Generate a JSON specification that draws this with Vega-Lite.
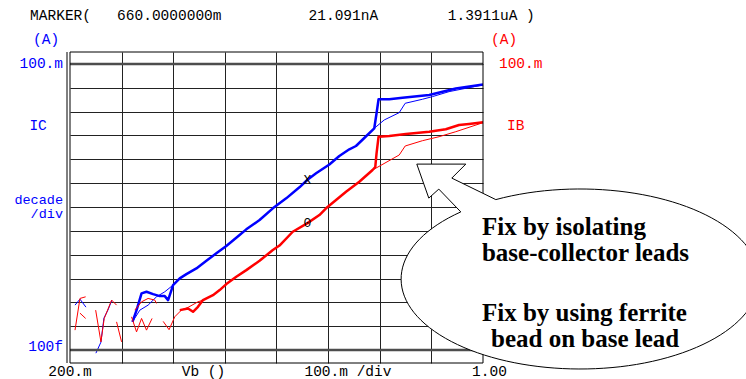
{
  "$schema": "https://vega.github.io/schema/vega-lite/v6.json",
  "width": 413,
  "height": 311,
  "autosize": {"type": "none"},
  "padding": {"left": 70, "top": 52, "right": 263, "bottom": 16},
  "background": "white",
  "config": {
    "view": {"stroke": null},
    "axis": {"labels": false, "ticks": false, "domain": false, "titleOpacity": 0, "gridColor": "#222222", "gridWidth": 1, "gridOpacity": 1}
  },
  "data": {"values": [{}]},
  "layer": [
    {
      "data": {"values": [
        {"series":"IC_meas","seg":"m","Vb":0.321,"I":1.53e-12},
        {"series":"IC_meas","seg":"m","Vb":0.329,"I":4.75e-12},
        {"series":"IC_meas","seg":"m","Vb":0.3386,"I":2.39e-11},
        {"series":"IC_meas","seg":"m","Vb":0.3482,"I":2.79e-11},
        {"series":"IC_meas","seg":"m","Vb":0.361,"I":2.23e-11},
        {"series":"IC_meas","seg":"m","Vb":0.3739,"I":1.84e-11},
        {"series":"IC_meas","seg":"m","Vb":0.3836,"I":1.84e-11},
        {"series":"IC_meas","seg":"m","Vb":0.39,"I":1.25e-11},
        {"series":"IC_meas","seg":"m","Vb":0.3965,"I":3.28e-11},
        {"series":"IC_meas","seg":"m","Vb":0.3996,"I":5.32e-11},
        {"series":"IC_meas","seg":"m","Vb":0.4126,"I":1.02e-10},
        {"series":"IC_meas","seg":"m","Vb":0.4255,"I":1.54e-10},
        {"series":"IC_meas","seg":"m","Vb":0.4448,"I":2.67e-10},
        {"series":"IC_meas","seg":"m","Vb":0.4642,"I":5.57e-10},
        {"series":"IC_meas","seg":"m","Vb":0.4835,"I":1.14e-9},
        {"series":"IC_meas","seg":"m","Vb":0.5028,"I":2.31e-9},
        {"series":"IC_meas","seg":"m","Vb":0.5285,"I":6.67e-9},
        {"series":"IC_meas","seg":"m","Vb":0.5415,"I":1.16e-8},
        {"series":"IC_meas","seg":"m","Vb":0.5672,"I":2.84e-8},
        {"series":"IC_meas","seg":"m","Vb":0.5929,"I":8.81e-8},
        {"series":"IC_meas","seg":"m","Vb":0.6188,"I":2.31e-7},
        {"series":"IC_meas","seg":"m","Vb":0.6444,"I":6.7e-7},
        {"series":"IC_meas","seg":"m","Vb":0.66,"I":1.3911e-6},
        {"series":"IC_meas","seg":"m","Vb":0.6767,"I":2.59e-6},
        {"series":"IC_meas","seg":"m","Vb":0.7024,"I":6.07e-6},
        {"series":"IC_meas","seg":"m","Vb":0.7217,"I":1.38e-5},
        {"series":"IC_meas","seg":"m","Vb":0.7411,"I":2.63e-5},
        {"series":"IC_meas","seg":"m","Vb":0.754,"I":3.62e-5},
        {"series":"IC_meas","seg":"m","Vb":0.77,"I":7.85e-5},
        {"series":"IC_meas","seg":"m","Vb":0.7894,"I":2.0e-4},
        {"series":"IC_meas","seg":"m","Vb":0.7938,"I":8.53e-4},
        {"series":"IC_meas","seg":"m","Vb":0.7977,"I":3.3e-3},
        {"series":"IC_meas","seg":"m","Vb":0.8184,"I":3.3e-3},
        {"series":"IC_meas","seg":"m","Vb":0.8441,"I":3.82e-3},
        {"series":"IC_meas","seg":"m","Vb":0.8957,"I":5.0e-3},
        {"series":"IC_meas","seg":"m","Vb":0.9473,"I":9.38e-3},
        {"series":"IC_meas","seg":"m","Vb":1.0,"I":1.38e-2},

        {"series":"IC_fix","seg":"a","Vb":0.2097,"I":7.71e-12},
        {"series":"IC_fix","seg":"a","Vb":0.2193,"I":1.37e-11},
        {"series":"IC_fix","seg":"a","Vb":0.2309,"I":6.35e-12},
        {"series":"IC_fix","seg":"b","Vb":0.2502,"I":7.45e-14},
        {"series":"IC_fix","seg":"b","Vb":0.2599,"I":2.16e-13},
        {"series":"IC_fix","seg":"b","Vb":0.2657,"I":2.19e-12},
        {"series":"IC_fix","seg":"b","Vb":0.2734,"I":4.75e-12},
        {"series":"IC_fix","seg":"b","Vb":0.2812,"I":1.25e-11},
        {"series":"IC_fix","seg":"m","Vb":0.321,"I":1.53e-12},
        {"series":"IC_fix","seg":"m","Vb":0.3353,"I":4.75e-12},
        {"series":"IC_fix","seg":"m","Vb":0.3513,"I":7.71e-12},
        {"series":"IC_fix","seg":"m","Vb":0.3675,"I":1.72e-11},
        {"series":"IC_fix","seg":"m","Vb":0.3836,"I":2.79e-11},
        {"series":"IC_fix","seg":"m","Vb":0.3996,"I":5.32e-11},
        {"series":"IC_fix","seg":"m","Vb":0.4126,"I":1.02e-10},
        {"series":"IC_fix","seg":"m","Vb":0.4255,"I":1.54e-10},
        {"series":"IC_fix","seg":"m","Vb":0.4448,"I":2.67e-10},
        {"series":"IC_fix","seg":"m","Vb":0.4642,"I":5.57e-10},
        {"series":"IC_fix","seg":"m","Vb":0.4835,"I":1.14e-9},
        {"series":"IC_fix","seg":"m","Vb":0.5028,"I":2.31e-9},
        {"series":"IC_fix","seg":"m","Vb":0.5285,"I":6.67e-9},
        {"series":"IC_fix","seg":"m","Vb":0.5415,"I":1.16e-8},
        {"series":"IC_fix","seg":"m","Vb":0.5672,"I":2.84e-8},
        {"series":"IC_fix","seg":"m","Vb":0.5929,"I":8.81e-8},
        {"series":"IC_fix","seg":"m","Vb":0.6188,"I":2.31e-7},
        {"series":"IC_fix","seg":"m","Vb":0.6444,"I":6.7e-7},
        {"series":"IC_fix","seg":"m","Vb":0.66,"I":1.3911e-6},
        {"series":"IC_fix","seg":"m","Vb":0.6767,"I":2.59e-6},
        {"series":"IC_fix","seg":"m","Vb":0.7024,"I":6.07e-6},
        {"series":"IC_fix","seg":"m","Vb":0.7217,"I":1.38e-5},
        {"series":"IC_fix","seg":"m","Vb":0.7411,"I":2.63e-5},
        {"series":"IC_fix","seg":"m","Vb":0.754,"I":3.62e-5},
        {"series":"IC_fix","seg":"m","Vb":0.77,"I":7.85e-5},
        {"series":"IC_fix","seg":"m","Vb":0.7894,"I":2.0e-4},
        {"series":"IC_fix","seg":"m","Vb":0.8087,"I":4.47e-4},
        {"series":"IC_fix","seg":"m","Vb":0.8377,"I":9.04e-4},
        {"series":"IC_fix","seg":"m","Vb":0.8493,"I":2.24e-3},
        {"series":"IC_fix","seg":"m","Vb":0.8827,"I":3.3e-3},
        {"series":"IC_fix","seg":"m","Vb":0.902,"I":4.25e-3},
        {"series":"IC_fix","seg":"m","Vb":0.9343,"I":6.89e-3},
        {"series":"IC_fix","seg":"m","Vb":1.0,"I":1.32e-2},

        {"series":"IB_meas","seg":"m","Vb":0.4126,"I":4.75e-12},
        {"series":"IB_meas","seg":"m","Vb":0.4286,"I":5.6e-12},
        {"series":"IB_meas","seg":"m","Vb":0.4383,"I":4.04e-12},
        {"series":"IB_meas","seg":"m","Vb":0.4479,"I":6.53e-12},
        {"series":"IB_meas","seg":"m","Vb":0.4576,"I":1.25e-11},
        {"series":"IB_meas","seg":"m","Vb":0.4769,"I":2.02e-11},
        {"series":"IB_meas","seg":"m","Vb":0.4899,"I":3.28e-11},
        {"series":"IB_meas","seg":"m","Vb":0.5028,"I":5.86e-11},
        {"series":"IB_meas","seg":"m","Vb":0.5221,"I":1.19e-10},
        {"series":"IB_meas","seg":"m","Vb":0.5415,"I":2.26e-10},
        {"series":"IB_meas","seg":"m","Vb":0.5672,"I":5.57e-10},
        {"series":"IB_meas","seg":"m","Vb":0.5929,"I":1.57e-9},
        {"series":"IB_meas","seg":"m","Vb":0.6058,"I":2.42e-9},
        {"series":"IB_meas","seg":"m","Vb":0.6315,"I":9.18e-9},
        {"series":"IB_meas","seg":"m","Vb":0.66,"I":2.1091e-8},
        {"series":"IB_meas","seg":"m","Vb":0.6831,"I":4.6e-8},
        {"series":"IB_meas","seg":"m","Vb":0.696,"I":8.81e-8},
        {"series":"IB_meas","seg":"m","Vb":0.7347,"I":4.38e-7},
        {"series":"IB_meas","seg":"m","Vb":0.7604,"I":1.15e-6},
        {"series":"IB_meas","seg":"m","Vb":0.7861,"I":3.56e-6},
        {"series":"IB_meas","seg":"m","Vb":0.7913,"I":4.76e-6},
        {"series":"IB_meas","seg":"m","Vb":0.7938,"I":1.79e-5},
        {"series":"IB_meas","seg":"m","Vb":0.7977,"I":8.89e-5},
        {"series":"IB_meas","seg":"m","Vb":0.8184,"I":9.52e-5},
        {"series":"IB_meas","seg":"m","Vb":0.8506,"I":1.16e-4},
        {"series":"IB_meas","seg":"m","Vb":0.8957,"I":1.44e-4},
        {"series":"IB_meas","seg":"m","Vb":0.9279,"I":1.82e-4},
        {"series":"IB_meas","seg":"m","Vb":0.9536,"I":2.75e-4},
        {"series":"IB_meas","seg":"m","Vb":0.9729,"I":3.03e-4},
        {"series":"IB_meas","seg":"m","Vb":1.0,"I":3.57e-4},

        {"series":"IB_fix","seg":"r1","Vb":0.2097,"I":6.89e-13},
        {"series":"IB_fix","seg":"r1","Vb":0.2193,"I":1.47e-11},
        {"series":"IB_fix","seg":"r1","Vb":0.2303,"I":1.72e-11},
        {"series":"IB_fix","seg":"r2","Vb":0.2193,"I":3.56e-12},
        {"series":"IB_fix","seg":"r2","Vb":0.2303,"I":2.13e-12},
        {"series":"IB_fix","seg":"r3","Vb":0.2497,"I":4.75e-12},
        {"series":"IB_fix","seg":"r3","Vb":0.2599,"I":2.22e-13},
        {"series":"IB_fix","seg":"r3","Vb":0.2663,"I":2.13e-12},
        {"series":"IB_fix","seg":"r3","Vb":0.2806,"I":1.25e-11},
        {"series":"IB_fix","seg":"r3","Vb":0.2902,"I":7.71e-12},
        {"series":"IB_fix","seg":"r4","Vb":0.2902,"I":1.53e-12},
        {"series":"IB_fix","seg":"r4","Vb":0.2999,"I":2.22e-13},
        {"series":"IB_fix","seg":"r5","Vb":0.3192,"I":2.49e-12},
        {"series":"IB_fix","seg":"r5","Vb":0.3289,"I":5.83e-13},
        {"series":"IB_fix","seg":"r5","Vb":0.3386,"I":2.13e-12},
        {"series":"IB_fix","seg":"r5","Vb":0.3482,"I":6.89e-13},
        {"series":"IB_fix","seg":"r5","Vb":0.359,"I":2.13e-12},
        {"series":"IB_fix","seg":"r6","Vb":0.3256,"I":4.75e-12},
        {"series":"IB_fix","seg":"r6","Vb":0.3386,"I":1.06e-11},
        {"series":"IB_fix","seg":"r6","Vb":0.3513,"I":1.47e-11},
        {"series":"IB_fix","seg":"r6","Vb":0.3643,"I":1.25e-11},
        {"series":"IB_fix","seg":"r6","Vb":0.3675,"I":9.08e-12},
        {"series":"IB_fix","seg":"m","Vb":0.3805,"I":1.6e-12},
        {"series":"IB_fix","seg":"m","Vb":0.3919,"I":7.2e-13},
        {"series":"IB_fix","seg":"m","Vb":0.4029,"I":2.49e-12},
        {"series":"IB_fix","seg":"m","Vb":0.4158,"I":4.75e-12},
        {"series":"IB_fix","seg":"m","Vb":0.4286,"I":6.17e-12},
        {"series":"IB_fix","seg":"m","Vb":0.4479,"I":1.06e-11},
        {"series":"IB_fix","seg":"m","Vb":0.4576,"I":1.25e-11},
        {"series":"IB_fix","seg":"m","Vb":0.4769,"I":2.02e-11},
        {"series":"IB_fix","seg":"m","Vb":0.4899,"I":3.28e-11},
        {"series":"IB_fix","seg":"m","Vb":0.5028,"I":5.86e-11},
        {"series":"IB_fix","seg":"m","Vb":0.5221,"I":1.19e-10},
        {"series":"IB_fix","seg":"m","Vb":0.5415,"I":2.26e-10},
        {"series":"IB_fix","seg":"m","Vb":0.5672,"I":5.57e-10},
        {"series":"IB_fix","seg":"m","Vb":0.5929,"I":1.57e-9},
        {"series":"IB_fix","seg":"m","Vb":0.6058,"I":2.42e-9},
        {"series":"IB_fix","seg":"m","Vb":0.6315,"I":9.18e-9},
        {"series":"IB_fix","seg":"m","Vb":0.66,"I":2.1091e-8},
        {"series":"IB_fix","seg":"m","Vb":0.6831,"I":4.6e-8},
        {"series":"IB_fix","seg":"m","Vb":0.696,"I":8.81e-8},
        {"series":"IB_fix","seg":"m","Vb":0.7347,"I":4.38e-7},
        {"series":"IB_fix","seg":"m","Vb":0.7604,"I":1.15e-6},
        {"series":"IB_fix","seg":"m","Vb":0.7861,"I":3.56e-6},
        {"series":"IB_fix","seg":"m","Vb":0.8377,"I":1.52e-5},
        {"series":"IB_fix","seg":"m","Vb":0.8493,"I":3.62e-5},
        {"series":"IB_fix","seg":"m","Vb":0.8827,"I":6.04e-5},
        {"series":"IB_fix","seg":"m","Vb":0.915,"I":8.89e-5},
        {"series":"IB_fix","seg":"m","Vb":0.9473,"I":1.44e-4},
        {"series":"IB_fix","seg":"m","Vb":1.0,"I":3.44e-4}
      ]},
      "mark": {"type": "line", "strokeJoin": "round"},
      "encoding": {
        "x": {"field": "Vb", "type": "quantitative",
              "scale": {"domain": [0.2, 1.0], "nice": false, "zero": false},
              "axis": {"values": [0.3, 0.4, 0.5, 0.6, 0.7, 0.8, 0.9], "grid": true, "title": null}},
        "y": {"field": "I", "type": "quantitative",
              "scale": {"type": "log", "domain": [2.884e-14, 0.3162], "nice": false},
              "axis": {"values": [1e-1, 1e-2, 1e-3, 1e-4, 1e-5, 1e-6, 1e-7, 1e-8, 1e-9, 1e-10, 1e-11, 1e-12, 1e-13], "grid": true, "title": null}},
        "color": {"field": "series", "type": "nominal", "legend": null,
                  "scale": {"type": "ordinal", "domain": ["IC_meas", "IC_fix", "IB_meas", "IB_fix"], "range": ["#0000ff", "#0000ff", "#ff0000", "#ff0000"]}},
        "strokeWidth": {"field": "series", "type": "nominal", "legend": null,
                  "scale": {"type": "ordinal", "domain": ["IC_meas", "IC_fix", "IB_meas", "IB_fix"], "range": [2.5, 1, 2.5, 1]}},
        "detail": [{"field": "series"}, {"field": "seg"}]
      }
    },
    {"mark": {"type": "rule", "color": "#4d4d4d", "strokeWidth": 2.5}, "encoding": {"y": {"datum": 0.1, "type": "quantitative"}}},
    {"mark": {"type": "rule", "color": "#4d4d4d", "strokeWidth": 2.5}, "encoding": {"y": {"datum": 1e-13, "type": "quantitative"}}},
    {"mark": {"type": "rule", "color": "black", "strokeWidth": 1}, "encoding": {"y": {"datum": 0.3162, "type": "quantitative"}}},
    {"mark": {"type": "rule", "color": "black", "strokeWidth": 1}, "encoding": {"y": {"datum": 2.884e-14, "type": "quantitative"}}},
    {"mark": {"type": "rule", "color": "black", "strokeWidth": 1}, "encoding": {"x": {"datum": 0.2, "type": "quantitative"}}},
    {"mark": {"type": "rule", "color": "black", "strokeWidth": 1, "xOffset": -3}, "encoding": {"x": {"datum": 0.2, "type": "quantitative"}}},
    {"mark": {"type": "rule", "color": "black", "strokeWidth": 1}, "encoding": {"x": {"datum": 1.0, "type": "quantitative"}}},
    {"mark": {"type": "text", "text": "X", "font": "Liberation Mono", "fontSize": 13, "color": "black", "align": "center", "baseline": "middle"},
     "encoding": {"x": {"datum": 0.66, "type": "quantitative"}, "y": {"datum": 1.3911e-6, "type": "quantitative"}}},
    {"mark": {"type": "text", "text": "0", "font": "Liberation Mono", "fontSize": 13, "color": "black", "align": "center", "baseline": "middle"},
     "encoding": {"x": {"datum": 0.66, "type": "quantitative"}, "y": {"datum": 2.1091e-8, "type": "quantitative"}}},
    {"mark": {"type": "point", "shape": "M-119,-67.2L-141,-90L-151,-81L-163,-115L-114,-115L-128,-101L-84,-79.5A179,90,0,1,1,-119,-67.2Z", "size": 4, "filled": true, "fill": "white", "stroke": "black", "strokeWidth": 1, "opacity": 1, "fillOpacity": 1, "strokeOpacity": 1},
     "encoding": {"x": {"datum": 1.1875, "type": "quantitative"}, "y": {"datum": 9.5e-11, "type": "quantitative"}}},
    {"mark": {"type": "text", "text": ["Fix by isolating", "base-collector leads"], "lineHeight": 26, "font": "Liberation Serif", "fontWeight": "bold", "fontSize": 25, "color": "black", "align": "left", "baseline": "alphabetic"},
     "encoding": {"x": {"datum": 0.998, "type": "quantitative"}, "y": {"datum": 6.67e-9, "type": "quantitative"}}},
    {"mark": {"type": "text", "text": "Fix by using ferrite", "font": "Liberation Serif", "fontWeight": "bold", "fontSize": 25, "color": "black", "align": "left", "baseline": "alphabetic"},
     "encoding": {"x": {"datum": 0.998, "type": "quantitative"}, "y": {"datum": 1.64e-12, "type": "quantitative"}}},
    {"mark": {"type": "text", "text": "bead on base lead", "font": "Liberation Serif", "fontWeight": "bold", "fontSize": 25, "color": "black", "align": "left", "baseline": "alphabetic"},
     "encoding": {"x": {"datum": 1.0155, "type": "quantitative"}, "y": {"datum": 1.33e-13, "type": "quantitative"}}},
    {"mark": {"type": "text", "text": "MARKER(\u00a0\u00a0\u00a0660.0000000m\u00a0\u00a0\u00a0\u00a0\u00a0\u00a0\u00a0\u00a0\u00a0\u00a021.091nA\u00a0\u00a0\u00a0\u00a0\u00a0\u00a0\u00a0\u00a01.3911uA\u00a0)", "font": "Liberation Mono", "fontSize": 14.5, "color": "black", "align": "left", "baseline": "middle"},
     "encoding": {"x": {"datum": 0.1227, "type": "quantitative"}, "y": {"datum": 10.33, "type": "quantitative"}}},
    {"mark": {"type": "text", "text": "(A)", "font": "Liberation Mono", "fontSize": 14.5, "color": "#0000ff", "align": "left", "baseline": "middle"},
     "encoding": {"x": {"datum": 0.1285, "type": "quantitative"}, "y": {"datum": 1.0, "type": "quantitative"}}},
    {"mark": {"type": "text", "text": "(A)", "font": "Liberation Mono", "fontSize": 14.5, "color": "#ff0000", "align": "left", "baseline": "middle"},
     "encoding": {"x": {"datum": 1.0155, "type": "quantitative"}, "y": {"datum": 1.0, "type": "quantitative"}}},
    {"mark": {"type": "text", "text": "100.m", "font": "Liberation Mono", "fontSize": 14.5, "color": "#0000ff", "align": "right", "baseline": "middle"},
     "encoding": {"x": {"datum": 0.1865, "type": "quantitative"}, "y": {"datum": 0.1, "type": "quantitative"}}},
    {"mark": {"type": "text", "text": "IC", "font": "Liberation Mono", "fontSize": 14.5, "color": "#0000ff", "align": "center", "baseline": "middle"},
     "encoding": {"x": {"datum": 0.1382, "type": "quantitative"}, "y": {"datum": 2.5e-4, "type": "quantitative"}}},
    {"mark": {"type": "text", "text": ["decade", "/div"], "lineHeight": 13.5, "font": "Liberation Mono", "fontSize": 13.5, "color": "#0000ff", "align": "right", "baseline": "alphabetic"},
     "encoding": {"x": {"datum": 0.1865, "type": "quantitative"}, "y": {"datum": 1.3e-7, "type": "quantitative"}}},
    {"mark": {"type": "text", "text": "100f", "font": "Liberation Mono", "fontSize": 14.5, "color": "#0000ff", "align": "right", "baseline": "middle"},
     "encoding": {"x": {"datum": 0.1865, "type": "quantitative"}, "y": {"datum": 1.33e-13, "type": "quantitative"}}},
    {"mark": {"type": "text", "text": "100.m", "font": "Liberation Mono", "fontSize": 14.5, "color": "#ff0000", "align": "left", "baseline": "middle"},
     "encoding": {"x": {"datum": 1.0309, "type": "quantitative"}, "y": {"datum": 0.1, "type": "quantitative"}}},
    {"mark": {"type": "text", "text": "IB", "font": "Liberation Mono", "fontSize": 14.5, "color": "#ff0000", "align": "left", "baseline": "middle"},
     "encoding": {"x": {"datum": 1.0464, "type": "quantitative"}, "y": {"datum": 2.5e-4, "type": "quantitative"}}},
    {"mark": {"type": "text", "text": "200.m", "font": "Liberation Mono", "fontSize": 14.5, "color": "black", "align": "center", "baseline": "middle"},
     "encoding": {"x": {"datum": 0.2, "type": "quantitative"}, "y": {"datum": 1.19e-14, "type": "quantitative"}}},
    {"mark": {"type": "text", "text": "Vb\u00a0()", "font": "Liberation Mono", "fontSize": 14.5, "color": "black", "align": "left", "baseline": "middle"},
     "encoding": {"x": {"datum": 0.4164, "type": "quantitative"}, "y": {"datum": 1.19e-14, "type": "quantitative"}}},
    {"mark": {"type": "text", "text": "100.m\u00a0/div", "font": "Liberation Mono", "fontSize": 14.5, "color": "black", "align": "left", "baseline": "middle"},
     "encoding": {"x": {"datum": 0.6541, "type": "quantitative"}, "y": {"datum": 1.19e-14, "type": "quantitative"}}},
    {"mark": {"type": "text", "text": "1.00", "font": "Liberation Mono", "fontSize": 14.5, "color": "black", "align": "left", "baseline": "middle"},
     "encoding": {"x": {"datum": 0.9788, "type": "quantitative"}, "y": {"datum": 1.19e-14, "type": "quantitative"}}}
  ]
}
